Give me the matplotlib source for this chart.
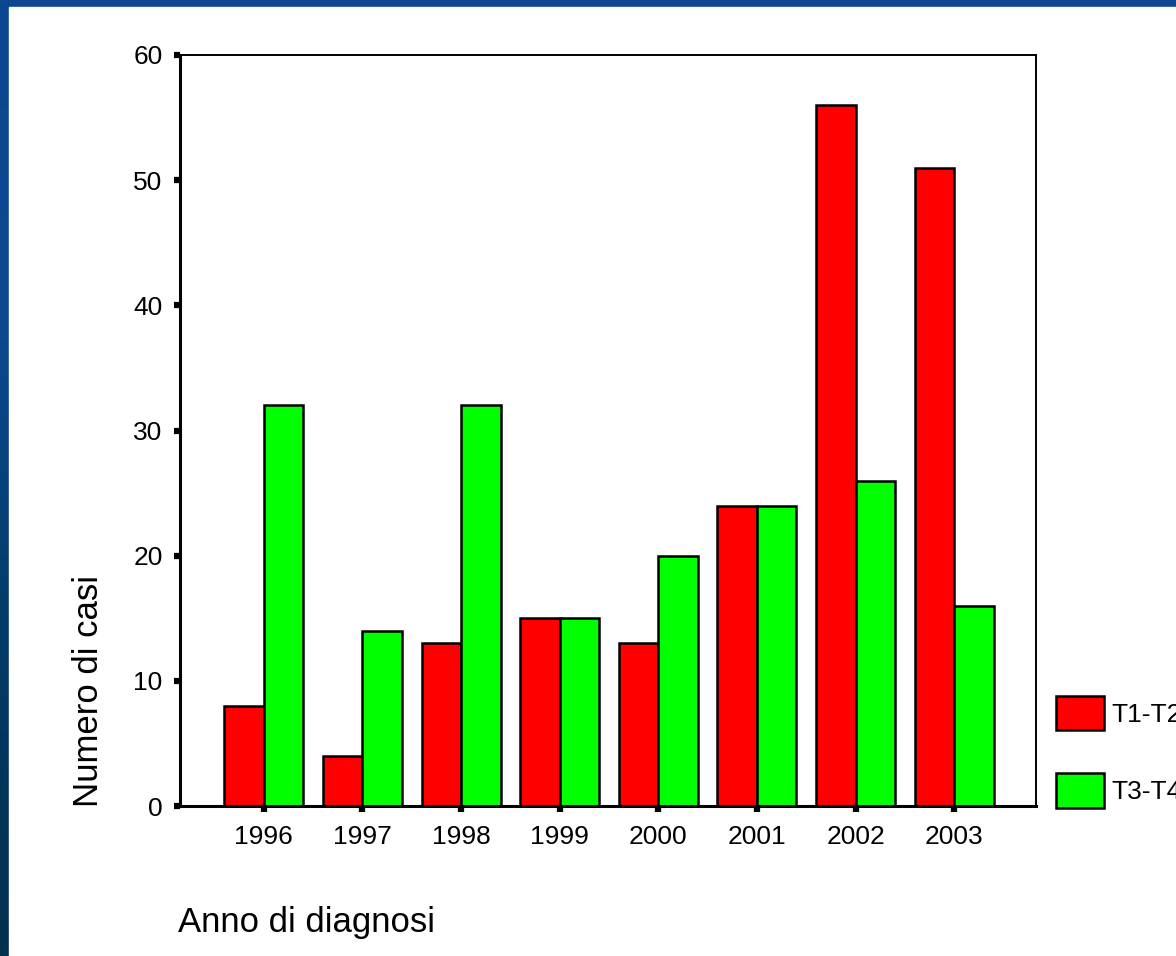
import matplotlib
matplotlib.use("Agg")
import matplotlib.pyplot as plt
import numpy as np
from matplotlib.colors import LinearSegmentedColormap
from matplotlib.patches import Rectangle

anni = ['1996', '1997', '1998', '1999', '2000', '2001', '2002', '2003']
t1_t2 = [8, 4, 13, 15, 13, 24, 56, 51]
t3_t4 = [32, 14, 32, 15, 20, 24, 26, 16]

plt.rcParams['font.family'] = ['Liberation Sans', 'DejaVu Sans']

W, H = 1176, 956
fig = plt.figure(figsize=(W / 100, H / 100), dpi=100)

# sfondo blu sfumato + riquadro bianco
bg = fig.add_axes([0, 0, 1, 1])
grad = np.linspace(0, 1, 256).reshape(-1, 1)
cmap = LinearSegmentedColormap.from_list('blu', ['#0c4790', '#0b4a92', '#033a66', '#02304f'])
bg.imshow(grad, aspect='auto', cmap=cmap, extent=[0, 1, 0, 1], origin='upper')
bg.add_patch(Rectangle((9 / W, 0), 1, 1 - 7 / H, transform=bg.transAxes, color='white'))
bg.set_axis_off()

ax = fig.add_axes([180 / W, (H - 806) / H, (1036 - 180) / W, (806 - 55) / H])
x = np.arange(len(anni))
width = 0.4
ax.bar(x - width / 2, t1_t2, width, color='#ff0000', edgecolor='black', linewidth=1.8, label='T1-T2')
ax.bar(x + width / 2, t3_t4, width, color='#00ff00', edgecolor='black', linewidth=1.8, label='T3-T4')

ax.set_xlim(-0.85, 7.83)
ax.set_ylim(0, 60)
ax.set_yticks([0, 10, 20, 30, 40, 50, 60])
ax.set_xticks(x)
ax.set_xticklabels(anni)
ax.tick_params(direction='out', length=4.5, width=4.5, color='black', labelsize=19)
ax.tick_params(axis='y', pad=8)
ax.tick_params(axis='x', pad=9)
for s in ['left', 'bottom']:
    ax.spines[s].set_linewidth(2.2)
for s in ['top', 'right']:
    ax.spines[s].set_linewidth(1.4)

fig.text(89 / W, (H - 807) / H, 'Numero di casi', rotation=90, ha='center', va='bottom', fontsize=25)
fig.text(178 / W, (H - 932) / H, 'Anno di diagnosi', ha='left', va='baseline', fontsize=25)

fig.legend(loc='lower left', bbox_to_anchor=(1056 / W, (H - 808) / H), frameon=False,
           fontsize=19, handlelength=1.8, handleheight=1.65, handletextpad=0.28,
           labelspacing=1.62, borderpad=0, borderaxespad=0)

fig.savefig('out.png', dpi=100)
